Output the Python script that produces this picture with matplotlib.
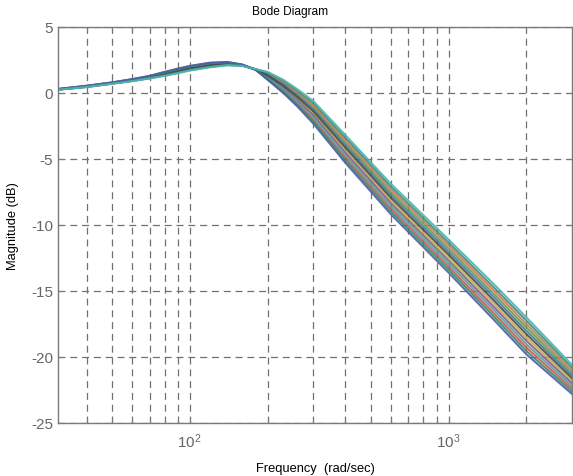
import numpy as np
import matplotlib
matplotlib.use('agg')
import matplotlib.pyplot as plt
from matplotlib.ticker import FixedLocator, NullFormatter

plt.rcParams['font.family'] = ['Liberation Sans', 'DejaVu Sans']
plt.rcParams['lines.scale_dashes'] = False

# frequency points (rad/sec)
freq = [31, 40, 50, 60, 70, 80, 90, 100, 120, 140, 160, 180, 200, 230, 260,
        300, 400, 600, 1000, 1500, 2000, 3000]

# magnitude curves (dB), earliest corner first
c01 = [0.30, 0.55, 0.80, 1.05, 1.30, 1.60, 1.85, 2.05, 2.30, 2.35, 2.15, 1.75, 1.00, 0.00, -1.00, -2.30, -5.30, -9.20, -13.60, -17.20, -19.80, -22.80]
c02 = [0.30, 0.54, 0.79, 1.04, 1.28, 1.57, 1.82, 2.02, 2.27, 2.33, 2.14, 1.75, 1.05, 0.09, -0.88, -2.15, -5.11, -8.99, -13.37, -16.95, -19.55, -22.60]
c03 = [0.29, 0.53, 0.78, 1.02, 1.26, 1.54, 1.78, 1.98, 2.24, 2.31, 2.13, 1.76, 1.11, 0.18, -0.76, -1.99, -4.92, -8.78, -13.15, -16.71, -19.29, -22.40]
c04 = [0.29, 0.52, 0.77, 1.01, 1.24, 1.51, 1.75, 1.95, 2.21, 2.29, 2.12, 1.76, 1.16, 0.27, -0.65, -1.84, -4.73, -8.57, -12.92, -16.46, -19.04, -22.20]
c05 = [0.28, 0.51, 0.76, 0.99, 1.22, 1.48, 1.72, 1.92, 2.17, 2.26, 2.11, 1.77, 1.22, 0.36, -0.53, -1.68, -4.54, -8.36, -12.69, -16.22, -18.78, -22.00]
c06 = [0.28, 0.50, 0.75, 0.98, 1.20, 1.46, 1.69, 1.89, 2.14, 2.24, 2.10, 1.77, 1.27, 0.45, -0.41, -1.53, -4.35, -8.15, -12.46, -15.97, -18.53, -21.80]
c07 = [0.27, 0.49, 0.74, 0.96, 1.18, 1.43, 1.66, 1.86, 2.11, 2.22, 2.10, 1.78, 1.33, 0.55, -0.29, -1.37, -4.15, -7.95, -12.24, -15.73, -18.27, -21.60]
c08 = [0.27, 0.48, 0.73, 0.95, 1.17, 1.40, 1.63, 1.83, 2.08, 2.20, 2.09, 1.78, 1.38, 0.64, -0.17, -1.22, -3.96, -7.74, -12.01, -15.48, -18.02, -21.40]
c09 = [0.26, 0.47, 0.72, 0.93, 1.15, 1.37, 1.60, 1.80, 2.05, 2.17, 2.08, 1.79, 1.44, 0.73, -0.06, -1.06, -3.77, -7.53, -11.78, -15.24, -17.76, -21.20]
c10 = [0.26, 0.46, 0.71, 0.92, 1.13, 1.35, 1.56, 1.76, 2.01, 2.15, 2.07, 1.79, 1.49, 0.82, 0.06, -0.91, -3.58, -7.32, -11.55, -14.99, -17.51, -21.00]
c11 = [0.25, 0.46, 0.71, 0.91, 1.12, 1.32, 1.53, 1.73, 1.98, 2.12, 2.06, 1.80, 1.55, 0.91, 0.18, -0.75, -3.39, -7.11, -11.33, -14.75, -17.25, -20.80]
c12 = [0.25, 0.45, 0.70, 0.90, 1.10, 1.30, 1.50, 1.70, 1.95, 2.10, 2.05, 1.80, 1.60, 1.00, 0.30, -0.60, -3.20, -6.90, -11.10, -14.50, -17.00, -20.60]

curves = [c01, c02, c03, c04, c05, c06, c07, c08, c09, c10, c11, c12]

yticks = [-25, -20, -15, -10, -5, 0, 5]
ytick_labels = ['-25', '-20', '-15', '-10', '-5', '0', '5']
xticks = [100, 1000]
xtick_labels = [r'$\mathregular{10^2}$', r'$\mathregular{10^3}$']
xminor = [40, 50, 60, 70, 80, 90, 200, 300, 400, 500, 600, 700, 800, 900, 2000]

# muted (jpeg-looking) versions of the old matlab colours, one per curve
colors = ['#4a5fa8', '#3d8a5c', '#c9565a', '#5a9e96', '#8a5a92', '#c2b44a',
          '#4a4a4a', '#3f7fa0', '#6a9a4a', '#d07a52', '#3e8f7e', '#4fb3b0']

fig = plt.figure(figsize=(5.73, 4.77), dpi=100)
ax = fig.add_axes([58/573, 53/477, 514/573, 396/477])

# inner curves first, the edge ones last
order = [5, 8, 2, 9, 4, 7, 3, 6, 1, 10, 0, 11]
for i in order:
    ax.plot(freq, curves[i], color=colors[i], linewidth=1.5, alpha=0.9)

ax.set_xscale('log')
ax.set_xlim(31, 3000)
ax.set_ylim(-25, 5)

ax.xaxis.set_major_locator(FixedLocator(xticks))
ax.set_xticklabels(xtick_labels)
ax.xaxis.set_minor_locator(FixedLocator(xminor))
ax.xaxis.set_minor_formatter(NullFormatter())
ax.set_yticks(yticks)
ax.set_yticklabels(ytick_labels)

grey = '#7a7a7a'
ax.tick_params(axis='both', which='both', direction='in', colors=grey,
               labelcolor='#666666', labelsize=11, top=True, right=True)
ax.tick_params(axis='both', which='major', length=4, width=0.8)
ax.tick_params(axis='both', which='minor', length=3, width=0.8)
ax.tick_params(axis='x', pad=6)
for s in ax.spines.values():
    s.set_color(grey)
    s.set_linewidth(1.0)

ax.grid(True, which='both', color='#707070', linestyle=(0, (5, 3.5)), linewidth=0.9)

fig.text(290/573, 1 - 12/477, 'Bode Diagram', fontsize=8.6, ha='center', va='center')
ax.set_xlabel('Frequency  (rad/sec)', fontsize=9.3, labelpad=9)
ax.set_ylabel('Magnitude (dB)', fontsize=9.3, labelpad=9)

fig.savefig('out.png', dpi=100)
